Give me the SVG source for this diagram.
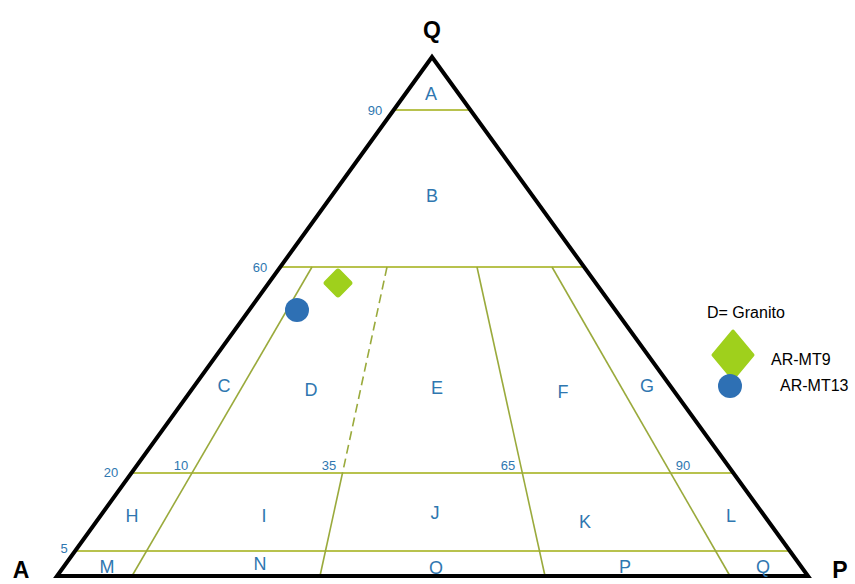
<svg xmlns="http://www.w3.org/2000/svg" width="855" height="584" viewBox="0 0 855 584">
<style>
.g{stroke:#9aaa3c;stroke-width:1.6;fill:none}
.h{stroke:#b8c24e;stroke-width:1.8;fill:none}
.lbl{font-family:"Liberation Sans",Arial,sans-serif;fill:#2f77b0;font-size:18px;text-anchor:middle}
.num{font-family:"Liberation Sans",Arial,sans-serif;fill:#2f77b0;font-size:13px;text-anchor:middle}
.v{font-family:"Liberation Sans",Arial,sans-serif;fill:#000;font-size:23px;font-weight:bold;text-anchor:middle}
.leg{font-family:"Liberation Sans",Arial,sans-serif;fill:#000;font-size:16px}
</style>
<rect width="855" height="584" fill="#fff"/>
<g id="connectors">
<line class="h" x1="394.5" y1="110" x2="469.5" y2="110"/>
<line class="h" x1="282" y1="267" x2="582" y2="267"/>
<line class="h" x1="132" y1="473" x2="733" y2="473"/>
<line class="h" x1="75.8" y1="551" x2="789" y2="551"/>
<line class="g" x1="312" y1="267" x2="132" y2="576"/>
<line class="g" x1="387" y1="267" x2="342.5" y2="473" stroke-dasharray="9,5"/>
<line class="g" x1="342.5" y1="473" x2="320" y2="576"/>
<line class="g" x1="477" y1="267" x2="545" y2="576"/>
<line class="g" x1="552" y1="267" x2="730" y2="576"/>
</g>
<g id="triangle">
<polygon points="432,57 57,576 808,576" fill="none" stroke="#000" stroke-width="4" stroke-linejoin="miter"/>
</g>
<g id="vertices">
<text class="v" x="432" y="38">Q</text>
<text class="v" x="21" y="578">A</text>
<text class="v" x="840" y="578">P</text>
</g>
<g id="regions">
<text class="lbl" x="431" y="100">A</text>
<text class="lbl" x="432" y="202">B</text>
<text class="lbl" x="224" y="392">C</text>
<text class="lbl" x="311" y="396">D</text>
<text class="lbl" x="437" y="394">E</text>
<text class="lbl" x="563" y="398">F</text>
<text class="lbl" x="647" y="392">G</text>
<text class="lbl" x="132" y="522">H</text>
<text class="lbl" x="264" y="522">I</text>
<text class="lbl" x="435" y="519">J</text>
<text class="lbl" x="585" y="528">K</text>
<text class="lbl" x="731" y="522">L</text>
<text class="lbl" x="107" y="573">M</text>
<text class="lbl" x="260" y="570">N</text>
<text class="lbl" x="436" y="574">O</text>
<text class="lbl" x="625" y="573">P</text>
<text class="lbl" x="763" y="573">Q</text>
</g>
<g id="numbers">
<text class="num" x="375" y="115">90</text>
<text class="num" x="260" y="272">60</text>
<text class="num" x="111" y="477">20</text>
<text class="num" x="181" y="470">10</text>
<text class="num" x="329" y="470">35</text>
<text class="num" x="508" y="470">65</text>
<text class="num" x="683" y="470">90</text>
<text class="num" x="64" y="553">5</text>
</g>
<g id="samples">
<rect x="327" y="272" width="22" height="22" rx="3" fill="#9fd01c" transform="rotate(45 338 283)"/>
<circle cx="297" cy="310" r="12" fill="#2e70b4"/>
</g>
<g id="legend">
<text class="leg" x="707" y="318" font-size="14">D= Granito</text>
<polygon points="733,331 753,355 733,379 713,355" fill="#9fd01c" stroke="#9fd01c" stroke-width="3" stroke-linejoin="round"/>
<text class="leg" x="771" y="365">AR-MT9</text>
<circle cx="730" cy="386" r="12" fill="#2e70b4"/>
<text class="leg" x="780" y="391">AR-MT13</text>
</g>
</svg>
